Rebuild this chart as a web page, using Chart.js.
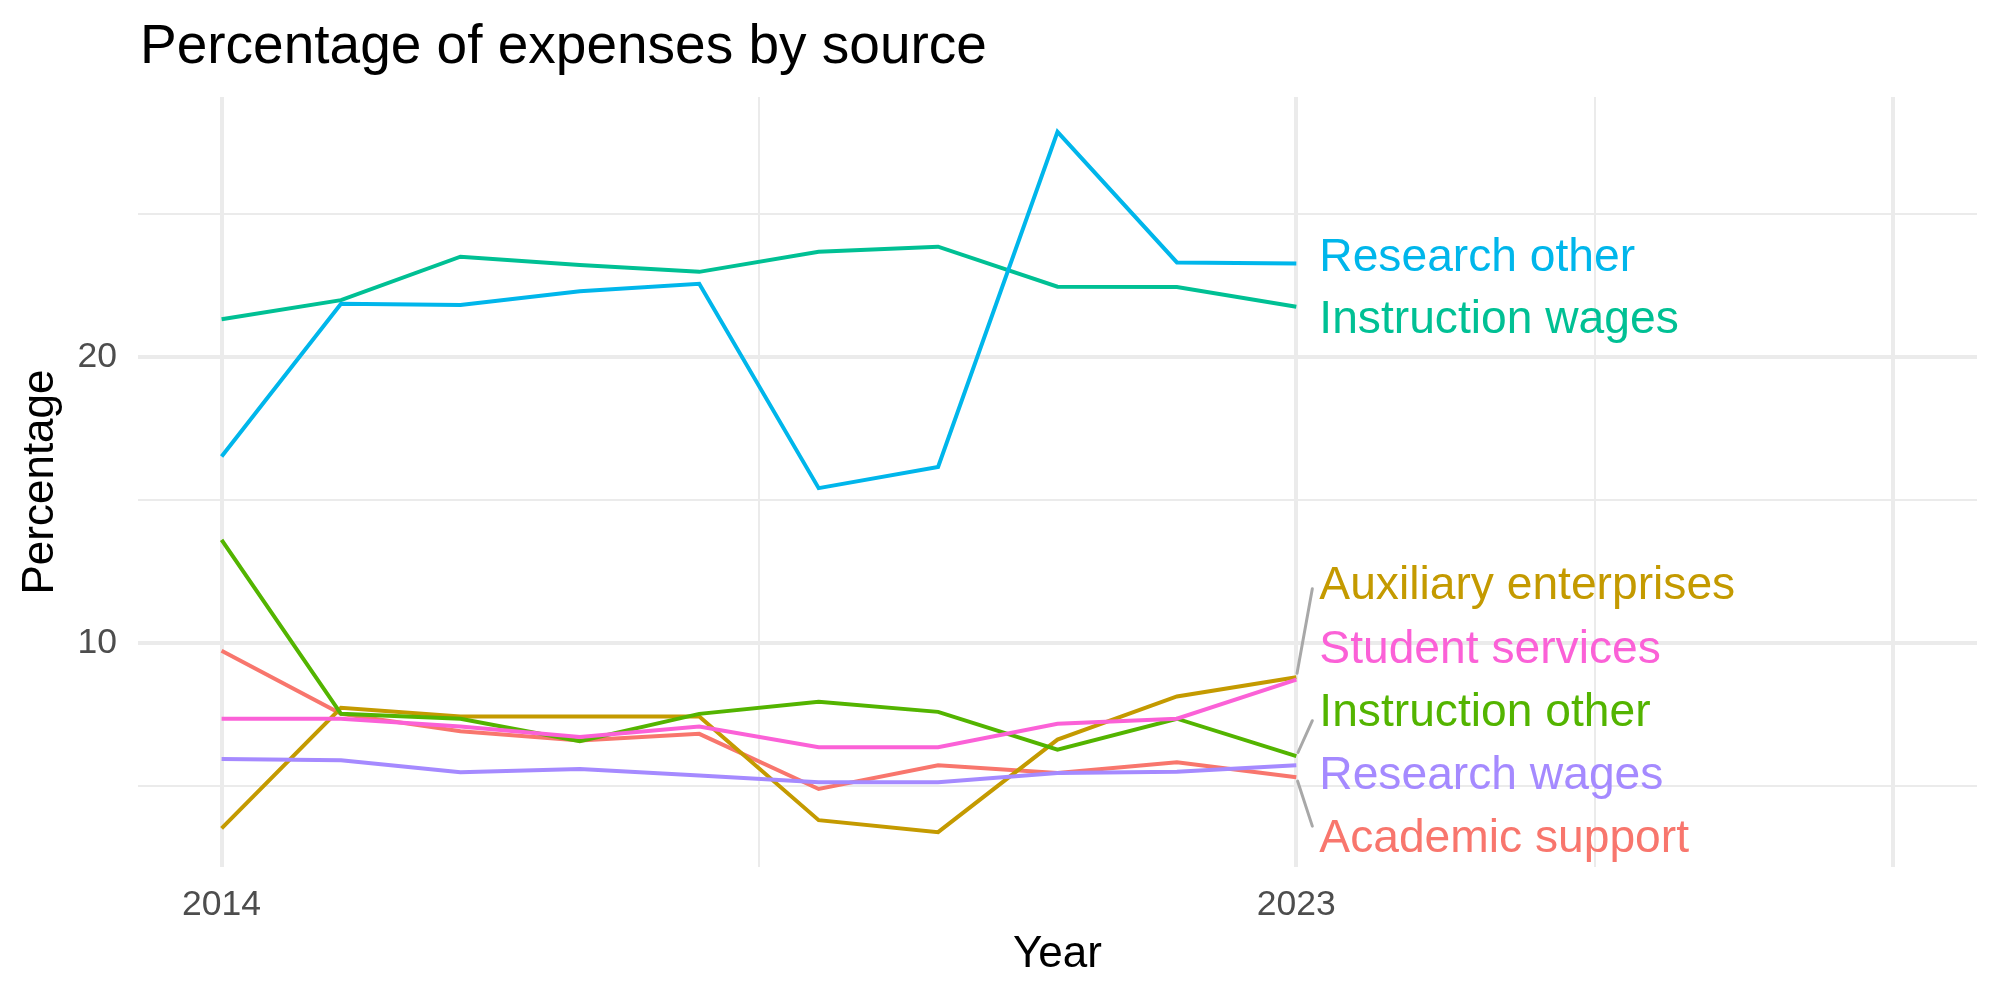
<!DOCTYPE html>
<html>
<head>
<meta charset="utf-8">
<script src="https://cdn.jsdelivr.net/npm/chart.js@4/dist/chart.umd.min.js"></script>
<style>
html,body{margin:0;padding:0;background:#ffffff;}
#wrap{width:2000px;height:1000px;position:relative;}
canvas{display:block;}
</style>
</head>
<body>
<div id="wrap"><canvas id="c" width="2000" height="1000" style="width:2000px;height:1000px"></canvas></div>
<script>
// ---------- data ----------
const years = [2014, 2015, 2016, 2017, 2018, 2019, 2020, 2021, 2022, 2023];
const seriesNames = ["Academic support", "Auxiliary enterprises", "Instruction other", "Instruction wages", "Research other", "Research wages", "Student services"];
const academicSupport      = [9.72, 7.51, 6.90, 6.58, 6.81, 4.88, 5.71, 5.44, 5.82, 5.29];
const auxiliaryEnterprises = [3.50, 7.72, 7.42, 7.42, 7.42, 3.79, 3.37, 6.61, 8.12, 8.79];
const instructionOther     = [13.60, 7.51, 7.34, 6.55, 7.51, 7.93, 7.58, 6.26, 7.34, 6.03];
const instructionWages     = [21.32, 21.99, 23.51, 23.22, 22.98, 23.68, 23.86, 22.46, 22.45, 21.76];
const researchOther        = [16.52, 21.86, 21.82, 22.30, 22.56, 15.41, 16.15, 27.88, 23.31, 23.27];
const researchWages        = [5.93, 5.89, 5.47, 5.58, 5.35, 5.12, 5.12, 5.44, 5.48, 5.71];
const studentServices      = [7.34, 7.34, 7.07, 6.70, 7.07, 6.34, 6.34, 7.16, 7.34, 8.71];
const seriesValues = [academicSupport, auxiliaryEnterprises, instructionOther, instructionWages, researchOther, researchWages, studentServices];

const xTickLabels = [2014, 2023];
const yTickLabels = [10, 20];
const titleText = "Percentage of expenses by source";
const xTitle = "Year";
const yTitle = "Percentage";

// ---------- styles / layout ----------
const colors = ["#F8766D", "#C49A00", "#53B400", "#00C094", "#00B6EB", "#A58AFF", "#FB61D7"];
const xGrid = { major: [2014, 2023, 2028], minor: [2018.5, 2025.5] };
const yGrid = { major: [10, 20], minor: [5, 15, 25] };
// repelled label baselines (in data units) and connector end points
const labelBaseline = [2.69, 11.54, 7.09, 20.84, 23.02, 4.87, 9.30];
const connectorEnd  = [3.58, 11.89, 7.27, null, null, null, null];

const FONT = '"Liberation Sans", Arial, Helvetica, sans-serif';
const GRID = '#EBEBEB';
const MAJOR_W = 4.0, MINOR_W = 2.0;

const datasets = seriesNames.map((name, i) => ({
  label: name,
  data: years.map((yr, j) => ({ x: yr, y: seriesValues[i][j] })),
  borderColor: colors[i],
  backgroundColor: colors[i],
  borderWidth: 4.0,
  pointRadius: 0,
  pointHoverRadius: 0,
  tension: 0,
  fill: false,
  order: seriesNames.length - 1 - i
}));

const annotate = {
  id: 'annotate',
  afterDatasetsDraw(chart) {
    const ctx = chart.ctx;
    const xs = chart.scales.x, ys = chart.scales.y;
    const lastX = xs.getPixelForValue(years[years.length - 1]);
    ctx.save();
    ctx.strokeStyle = '#A8A8A8';
    ctx.lineWidth = 3.0;
    ctx.lineCap = 'round';
    seriesNames.forEach((n, i) => {
      if (connectorEnd[i] === null) return;
      const v = seriesValues[i][years.length - 1];
      const px = lastX, py = ys.getPixelForValue(v);
      const ex = lastX + 16, ey = ys.getPixelForValue(connectorEnd[i]);
      const dx = ex - px, dy = ey - py, len = Math.hypot(dx, dy);
      ctx.beginPath();
      ctx.moveTo(px + dx / len * 4, py + dy / len * 4);
      ctx.lineTo(ex, ey);
      ctx.stroke();
    });
    ctx.restore();
  },
  afterDraw(chart) {
    const ctx = chart.ctx;
    const xs = chart.scales.x, ys = chart.scales.y, ca = chart.chartArea;
    const lastX = xs.getPixelForValue(years[years.length - 1]);
    ctx.save();
    ctx.font = '46.2px ' + FONT;
    ctx.textAlign = 'left';
    ctx.textBaseline = 'alphabetic';
    seriesNames.forEach((n, i) => {
      ctx.fillStyle = colors[i];
      ctx.fillText(n, lastX + 23, ys.getPixelForValue(labelBaseline[i]));
    });
    ctx.fillStyle = '#000000';
    ctx.font = '55px ' + FONT;
    ctx.fillText(titleText, 140, 63);
    ctx.font = '44px ' + FONT;
    ctx.textAlign = 'center';
    ctx.fillText(xTitle, (ca.left + ca.right) / 2, 967);
    ctx.translate(53, (ca.top + ca.bottom) / 2);
    ctx.rotate(-Math.PI / 2);
    ctx.fillText(yTitle, 0, 0);
    ctx.restore();
  }
};

new Chart(document.getElementById('c'), {
  type: 'line',
  data: { datasets },
  options: {
    responsive: false,
    animation: false,
    devicePixelRatio: 1,
    layout: { padding: { top: 97, right: 23, left: 0, bottom: 0 } },
    plugins: { legend: { display: false }, tooltip: { enabled: false }, title: { display: false } },
    scales: {
      x: {
        type: 'linear',
        min: 2013.3,
        max: 2028.7,
        afterBuildTicks: (s) => { s.ticks = [...xGrid.major, ...xGrid.minor].sort((a, b) => a - b).map(v => ({ value: v })); },
        afterFit: (s) => { s.height = 133; },
        ticks: {
          autoSkip: false, maxRotation: 0, minRotation: 0,
          padding: 17,
          color: '#4D4D4D',
          font: { family: FONT, size: 35.5 },
          callback: (v) => xTickLabels.includes(v) ? String(v) : ''
        },
        grid: {
          color: GRID,
          drawTicks: false,
          lineWidth: (c) => (c.tick && xGrid.major.includes(c.tick.value)) ? MAJOR_W : MINOR_W
        },
        border: { display: false }
      },
      y: {
        type: 'linear',
        min: 2.15,
        max: 29.1,
        afterBuildTicks: (s) => { s.ticks = [...yGrid.minor, ...yGrid.major].sort((a, b) => a - b).map(v => ({ value: v })); },
        afterFit: (s) => { s.width = 138; },
        ticks: {
          autoSkip: false,
          padding: 21,
          color: '#4D4D4D',
          font: { family: FONT, size: 35.5 },
          callback: (v) => yTickLabels.includes(v) ? String(v) : ''
        },
        grid: {
          color: GRID,
          drawTicks: false,
          lineWidth: (c) => (c.tick && yGrid.major.includes(c.tick.value)) ? MAJOR_W : MINOR_W
        },
        border: { display: false }
      }
    }
  },
  plugins: [annotate]
});
</script>
</body>
</html>
